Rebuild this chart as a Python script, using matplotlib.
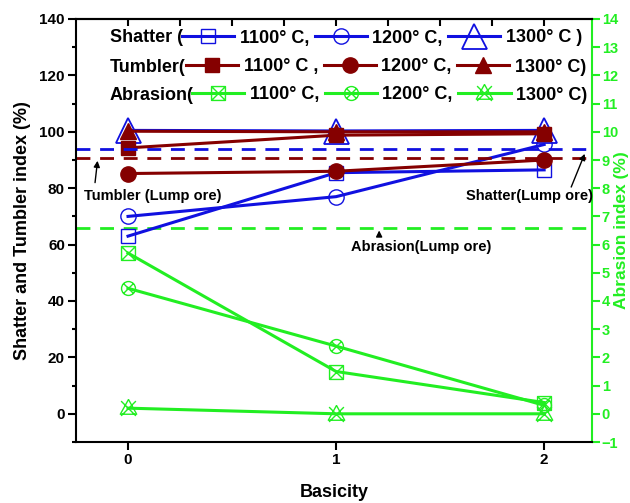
import numpy as np
import matplotlib
matplotlib.use("Agg")
from matplotlib import pyplot as plt
from matplotlib.path import Path

plt.rcParams['font.family'] = ['Liberation Sans', 'DejaVu Sans']
plt.rcParams['font.weight'] = 'bold'

# data
basicity = [0, 1, 2]
temps = ["1100", "1200", "1300"]

shatter_1100 = [63.0, 85.5, 86.5]
shatter_1200 = [70.0, 77.0, 95.5]
shatter_1300 = [100.5, 100.3, 100.5]

tumbler_1100 = [94.3, 98.8, 99.3]
tumbler_1200 = [85.2, 86.0, 90.0]
tumbler_1300 = [100.2, 100.0, 100.0]

abrasion_1100 = [5.7, 1.5, 0.4]
abrasion_1200 = [4.45, 2.4, 0.3]
abrasion_1300 = [0.2, 0.0, 0.0]

shatter_lump = 93.9
tumbler_lump = 90.7
abrasion_lump = 6.6

BLUE = "#1010e0"
RED = "#850000"
GREEN = "#22ee22"


# open markers with a cross inside
def crossed(shape):
    if shape == "square":
        outline = [(-1, -1), (1, -1), (1, 1), (-1, 1), (-1, -1)]
        codes = [Path.MOVETO] + [Path.LINETO] * 4
        verts = outline[:]
        d = 1.0
    elif shape == "triangle":
        outline = [(0, 1.1), (-1, -0.7), (1, -0.7), (0, 1.1)]
        codes = [Path.MOVETO] + [Path.LINETO] * 3
        verts = outline[:]
        d = 0.9
    else:
        circ = Path.unit_circle()
        verts = list(map(tuple, circ.vertices))
        codes = list(circ.codes)
        d = 0.707
    verts += [(-d, -d), (d, d), (-d, d), (d, -d)]
    codes += [Path.MOVETO, Path.LINETO, Path.MOVETO, Path.LINETO]
    return Path(verts, codes)


fig = plt.figure(figsize=(6.3, 5.03), dpi=100)
ax = fig.add_axes([76 / 630, 1 - 442 / 503, 516 / 630, 423 / 503])
ax2 = ax.twinx()

lw = 2.2
# abrasion on the right axis
a1, = ax2.plot(basicity, abrasion_1100, color=GREEN, lw=lw, marker=crossed("square"),
               ms=10, mfc="none", mec=GREEN, mew=1.0)
a2, = ax2.plot(basicity, abrasion_1200, color=GREEN, lw=lw, marker=crossed("circle"),
               ms=10, mfc="none", mec=GREEN, mew=1.0)
a3, = ax2.plot(basicity, abrasion_1300, color=GREEN, lw=lw, marker=crossed("triangle"),
               ms=13, mfc="none", mec=GREEN, mew=1.0)
ax2.axhline(abrasion_lump, color=GREEN, lw=2, ls=(0, (5, 3.5)))

# shatter and tumbler on the left axis
s1, = ax.plot(basicity, shatter_1100, color=BLUE, lw=lw, marker="s", ms=10,
              mfc="none", mec=BLUE, mew=1.0)
s2, = ax.plot(basicity, shatter_1200, color=BLUE, lw=lw, marker="o", ms=11,
              mfc="none", mec=BLUE, mew=1.0)
s3, = ax.plot(basicity, shatter_1300, color=BLUE, lw=lw, marker="^", ms=18,
              mfc="none", mec=BLUE, mew=1.3)
t1, = ax.plot(basicity, tumbler_1100, color=RED, lw=lw, marker="s", ms=10,
              mfc=RED, mec=RED)
t2, = ax.plot(basicity, tumbler_1200, color=RED, lw=lw, marker="o", ms=11,
              mfc=RED, mec=RED)
t3, = ax.plot(basicity, tumbler_1300, color=RED, lw=lw, marker="^", ms=11,
              mfc=RED, mec=RED)
ax.axhline(shatter_lump, color=BLUE, lw=2, ls=(0, (5, 3.5)))
ax.axhline(tumbler_lump, color=RED, lw=2, ls=(0, (5, 3.5)))

ax.set_zorder(2)
ax.patch.set_visible(False)

# axes limits and ticks
ax.set_xlim(-0.25, 2.23)
ax.set_ylim(-10, 140)
ax2.set_ylim(-1, 14)
ax.set_xticks(basicity)
ax.set_yticks(np.arange(0, 141, 20))
ax.set_yticks(np.arange(-10, 141, 10), minor=True)
ax2.set_yticks(np.arange(-1, 15, 1))
ax.tick_params(axis="both", which="major", direction="out", length=6, width=1.5,
               labelsize=11, pad=2)
ax.tick_params(axis="y", which="minor", direction="out", length=3, width=1.5)
ax.tick_params(axis="x", which="minor", bottom=False)
ax2.tick_params(axis="y", direction="out", length=6, width=1.5, colors=GREEN,
                labelsize=10.5, pad=1)
for lab in ax.get_xticklabels() + ax.get_yticklabels() + ax2.get_yticklabels():
    lab.set_fontweight("bold")

top = ax.secondary_xaxis("top")
top.set_xticks(np.arange(0, 2.01, 0.25))
top.tick_params(direction="in", length=5, width=1.5, labeltop=False)

for sp in ax.spines.values():
    sp.set_linewidth(1.5)
ax.spines["right"].set_visible(False)
for name in ("left", "top", "bottom"):
    ax2.spines[name].set_visible(False)
ax2.spines["right"].set_color(GREEN)
ax2.spines["right"].set_linewidth(1.5)
top.spines["top"].set_linewidth(1.5)

ax.set_xlabel("Basicity", fontsize=13, fontweight="bold", labelpad=12)
ax.set_ylabel("Shatter and Tumbler index (%)", fontsize=13, fontweight="bold", labelpad=6)
ax2.set_ylabel("Abrasion index (%)", fontsize=12.5, fontweight="bold", color=GREEN,
               labelpad=-3)

# reference line annotations
arrow = dict(arrowstyle="-|>", color="black", lw=1, mutation_scale=9)
ax.annotate("", xy=(-0.145, tumbler_lump), xytext=(-0.16, 81), arrowprops=arrow)
ax.text(0.12, 77.3, "Tumbler (Lump ore)", fontsize=10.5, fontweight="bold",
        ha="center", va="center")
ax.annotate("", xy=(2.2, shatter_lump - 0.8), xytext=(2.125, 79.5), arrowprops=arrow)
ax.text(1.93, 77.3, "Shatter(Lump ore)", fontsize=10.5, fontweight="bold",
        ha="center", va="center")
ax2.annotate("", xy=(1.207, abrasion_lump), xytext=(1.207, 6.2), arrowprops=arrow)
ax2.text(1.41, 5.9, "Abrasion(Lump ore)", fontsize=10.5, fontweight="bold",
         ha="center", va="center")

# legend rows: prefix text + three handles each
rows = [
    ("Shatter (", [s1, s2, s3], ["1100° C,", "1200° C,", "1300° C )"], 182, 38),
    ("Tumbler(", [t1, t2, t3], ["1100° C ,", "1200° C,", "1300° C)"], 186, 67),
    ("Abrasion(", [a1, a2, a3], ["1100° C,", "1200° C,", "1300° C)"], 192, 95),
]
for prefix, handles, labels, x0, y0 in rows:
    fig.text(110 / 630, 1 - y0 / 503, prefix, fontsize=13, fontweight="bold",
             ha="left", va="center")
    leg = fig.legend(handles, labels, ncol=3, loc="center left",
                     bbox_to_anchor=(x0 / 630, 1 - y0 / 503), frameon=False,
                     handlelength=2.9, handletextpad=0.3,
                     columnspacing=0.3, borderpad=0, borderaxespad=0,
                     prop={"weight": "bold", "size": 13})

fig.savefig("out.png", dpi=100)
